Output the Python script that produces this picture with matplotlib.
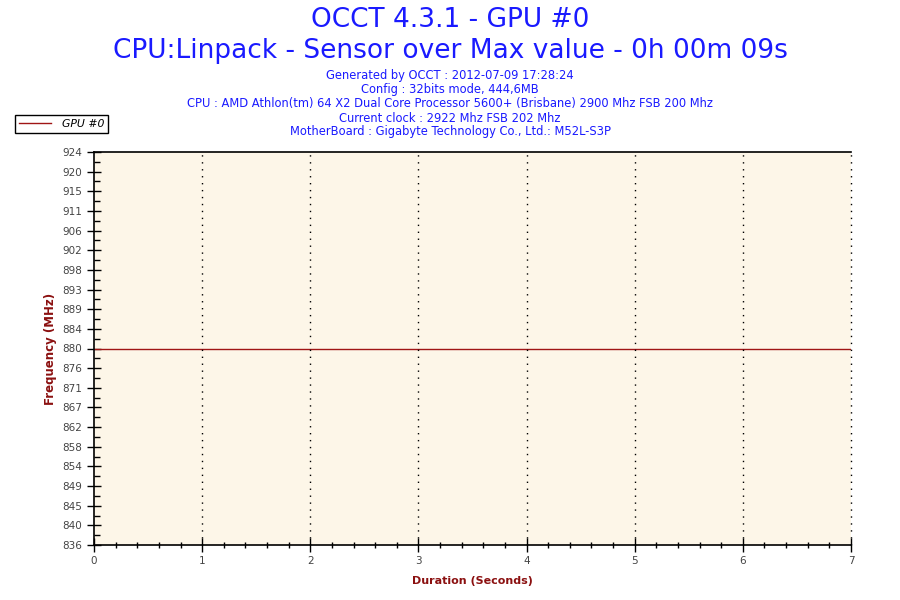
import matplotlib.pyplot as plt
from matplotlib.ticker import FixedLocator, MultipleLocator

# Chart data
duration = [0, 1, 2, 3, 4, 5, 6, 7]
gpu0_freq = [880, 880, 880, 880, 880, 880, 880, 880]
y_ticks = [836, 840.4, 844.8, 849.2, 853.6, 858, 862.4, 866.8, 871.2, 875.6, 880,
           884.4, 888.8, 893.2, 897.6, 902, 906.4, 910.8, 915.2, 919.6, 924]
y_labels = ['836', '840', '845', '849', '854', '858', '862', '867', '871', '876', '880',
            '884', '889', '893', '898', '902', '906', '911', '915', '920', '924']
x_ticks = [0, 1, 2, 3, 4, 5, 6, 7]

title1 = "OCCT 4.3.1 - GPU #0"
title2 = "CPU:Linpack - Sensor over Max value - 0h 00m 09s"
info_lines = [
    "Generated by OCCT : 2012-07-09 17:28:24",
    "Config : 32bits mode, 444,6MB",
    "CPU : AMD Athlon(tm) 64 X2 Dual Core Processor 5600+ (Brisbane) 2900 Mhz FSB 200 Mhz",
    "Current clock : 2922 Mhz FSB 202 Mhz",
    "MotherBoard : Gigabyte Technology Co., Ltd.: M52L-S3P",
]

blue = '#1a1aff'
dark_red = '#8b1010'

fig = plt.figure(figsize=(9, 6), dpi=100)
ax = fig.add_axes([94 / 900, 1 - 545 / 600, (851 - 94) / 900, (545 - 152) / 600])
ax.set_facecolor('#fdf6e8')

line, = ax.plot(duration, gpu0_freq, color='#a01515', linewidth=1, label='GPU #0')

ax.set_xlim(0, 7)
ax.set_ylim(836, 924)

ax.yaxis.set_major_locator(FixedLocator(y_ticks))
ax.set_yticklabels(y_labels)
ax.yaxis.set_minor_locator(FixedLocator([v + 2.2 for v in y_ticks[:-1]]))
ax.set_xticks(x_ticks)
ax.xaxis.set_minor_locator(MultipleLocator(0.2))

ax.tick_params(axis='both', which='major', direction='inout', length=10, width=1,
               labelsize=7.5, labelcolor='#444444')
ax.tick_params(axis='y', which='minor', direction='in', length=4, width=1)
ax.tick_params(axis='x', which='minor', direction='inout', length=5, width=1)
ax.tick_params(axis='x', which='major', pad=3)

# dotted vertical grid
for xv in x_ticks[1:]:
    ax.axvline(xv, color='black', linestyle=(0, (1, 4)), linewidth=1, clip_on=False)

ax.spines['right'].set_visible(False)
for s in ['top', 'left', 'bottom']:
    ax.spines[s].set_linewidth(1.2)

ax.set_xlabel("Duration (Seconds)", color=dark_red, fontweight='bold', fontsize=8, labelpad=7)
ax.set_ylabel("Frequency (MHz)", color=dark_red, fontweight='bold', fontsize=8.5, labelpad=4)

# titles
fig.text(0.5, 1 - 20 / 600, title1, ha='center', va='center', color=blue, fontsize=19)
fig.text(0.5, 1 - 51 / 600, title2, ha='center', va='center', color=blue, fontsize=19)
for i, t in enumerate(info_lines):
    fig.text(0.5, 1 - (76 + 14 * i) / 600, t, ha='center', va='center', color=blue, fontsize=8.3)

leg = fig.legend(handles=[line], loc='upper left', bbox_to_anchor=(15 / 900, 1 - 115 / 600),
                 fancybox=False, edgecolor='black', framealpha=1,
                 handlelength=3.0, borderpad=0.35, borderaxespad=0, handletextpad=1.0,
                 prop={'style': 'italic', 'size': 7.8})
leg.get_frame().set_linewidth(1)

fig.savefig('out.png', dpi=100)
